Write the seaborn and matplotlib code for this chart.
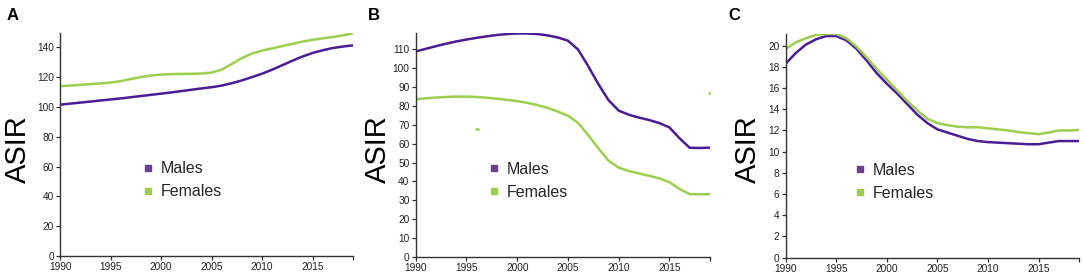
import numpy as np
import pandas as pd
import matplotlib
matplotlib.use("Agg")
import matplotlib.pyplot as plt
import seaborn as sns
from matplotlib.lines import Line2D

# ---- data ----
years = list(range(1990, 2020))

a_males = [101.5, 102.2, 102.9, 103.6, 104.3, 105.0, 105.7, 106.5, 107.3, 108.1,
           108.9, 109.7, 110.6, 111.5, 112.4, 113.2, 114.3, 115.9, 117.8, 120.0,
           122.3, 125.0, 128.0, 131.0, 133.8, 136.2, 138.0, 139.5, 140.5, 141.3]
a_females = [114.0, 114.3, 114.8, 115.3, 115.8, 116.3, 117.3, 118.7, 120.0, 121.0,
             121.7, 122.0, 122.1, 122.2, 122.4, 123.0, 125.0, 128.8, 132.8, 135.8,
             137.8, 139.3, 140.8, 142.3, 143.8, 145.0, 146.0, 146.9, 148.0, 149.5]

b_males = [108.8, 110.2, 111.6, 112.9, 114.1, 115.1, 116.0, 116.8, 117.5, 118.0,
           118.3, 118.3, 118.0, 117.3, 116.2, 114.5, 109.8, 101.0, 91.5, 83.0,
           77.5, 75.3, 73.8, 72.5, 70.9, 68.6, 62.8, 57.8, 57.7, 57.9]
b_females = [83.4, 84.0, 84.4, 84.7, 84.9, 84.9, 84.7, 84.3, 83.8, 83.2,
             82.5, 81.6, 80.4, 78.9, 77.0, 74.8, 71.0, 64.5, 57.5, 51.0,
             47.3, 45.5, 44.2, 43.0, 41.6, 39.6, 36.0, 33.3, 33.2, 33.3]
# two stray green dashes that appear in panel B
b_stray_x = [1996, 2019]
b_stray_y = [68, 87]

c_males = [18.3, 19.3, 20.1, 20.6, 20.9, 20.9, 20.5, 19.7, 18.6, 17.4,
           16.4, 15.5, 14.5, 13.5, 12.7, 12.1, 11.8, 11.5, 11.2, 11.0,
           10.9, 10.85, 10.8, 10.75, 10.7, 10.7, 10.85, 11.0, 11.0, 11.0]
c_females = [19.7, 20.3, 20.7, 21.0, 21.1, 21.1, 20.7, 19.9, 18.9, 17.8,
             16.8, 15.8, 14.8, 13.9, 13.1, 12.7, 12.5, 12.35, 12.3, 12.3,
             12.2, 12.1, 12.0, 11.85, 11.75, 11.65, 11.8, 12.0, 12.0, 12.05]

panels = ["A", "B", "C"]
ylims = [149.5, 118.5, 21.1]
ysteps = [20, 10, 2]
xticks = [1990, 1995, 2000, 2005, 2010, 2015]

male_col = "#4a1d96"
female_col = "#9bcf4d"
male_leg = "#6b3f8e"
female_leg = "#9ccc50"

sns.set_style("ticks")
plt.rcParams['font.family'] = ['Liberation Sans', 'DejaVu Sans']

fig = plt.figure(figsize=(10.84, 2.76), dpi=100)
rects = [[0.0554, 0.0725, 0.2703, 0.8075],
         [0.3835, 0.0688, 0.2715, 0.8112],
         [0.7248, 0.0663, 0.2706, 0.8107]]
label_x = [17.5, 378.0, 748.0]      # pixel centres of the big "ASIR" labels
letter_x = [7, 368, 728]            # pixel left edges of the panel letters

series = [(a_males, a_females), (b_males, b_females), (c_males, c_females)]

for i, (m, f) in enumerate(series):
    ax = fig.add_axes(rects[i])
    df = pd.DataFrame({"Year": years * 2,
                       "ASIR": m + f,
                       "Sex": ["Males"] * len(years) + ["Females"] * len(years)})
    sns.lineplot(data=df, x="Year", y="ASIR", hue="Sex",
                 palette={"Males": male_col, "Females": female_col},
                 linewidth=1.8, legend=False, ax=ax)
    if i == 1:
        ax.scatter(b_stray_x, b_stray_y, marker="_", s=12, color=female_col,
                   linewidths=1.8, zorder=3)
    ax.set_xlim(1990, 2019)
    ax.set_ylim(0, ylims[i])
    ax.set_xticks(xticks + [2019])
    ax.set_xticklabels([str(x) for x in xticks] + [""])
    ax.set_yticks(np.arange(0, ylims[i], ysteps[i]))
    ax.tick_params(labelsize=7.3, length=3, width=0.9, color="#333333",
                   labelcolor="#222222", pad=1.5)
    for s in ["top", "right"]:
        ax.spines[s].set_visible(False)
    for s in ["left", "bottom"]:
        ax.spines[s].set_color("#333333")
        ax.spines[s].set_linewidth(1.0)
    ax.set_xlabel("")
    ax.set_ylabel("")

    handles = [Line2D([], [], marker="s", linestyle="", markersize=4.5,
                      color=male_leg, label="Males"),
               Line2D([], [], marker="s", linestyle="", markersize=4.5,
                      color=female_leg, label="Females")]
    lx = [0.245, 0.213, 0.198][i]
    ax.legend(handles=handles, loc="center left", bbox_to_anchor=(lx, 0.34),
              frameon=False, fontsize=11.5, handletextpad=0.3, labelspacing=0.5,
              handlelength=1.0, borderpad=0)

    fig.text(label_x[i] / 1084, 1 - 149 / 276, "ASIR", fontsize=21,
             rotation=90, ha="center", va="center", color="black")
    fig.text(letter_x[i] / 1084, 1 - 16 / 276, panels[i], fontsize=12,
             fontweight="bold", ha="left", va="center", color="black")

fig.savefig("out.png", dpi=100)
